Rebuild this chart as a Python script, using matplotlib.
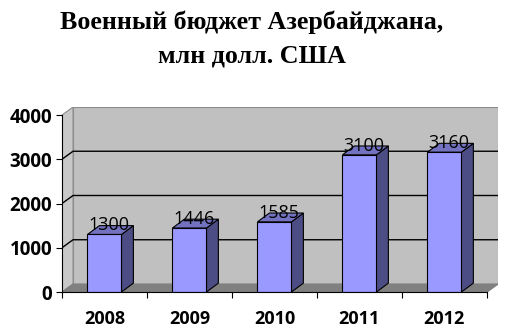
import numpy as np
import matplotlib.pyplot as plt
from matplotlib.patches import Polygon

# data
years = ['2008', '2009', '2010', '2011', '2012']
budget = [1300, 1446, 1585, 3100, 3160]
grid_vals = [0, 1000, 2000, 3000, 4000]

# 3d look: depth offsets in data units
wall_dx, wall_dy = 0.13, 181
bar_dx, bar_dy = 0.14, 200
bar_w = 0.4

fig = plt.figure(figsize=(5.11, 3.36), dpi=100)
ax = fig.add_axes([62 / 511, 44 / 336, 436 / 511, 185 / 336])
ax.set_xlim(0, 5 + wall_dx)
ax.set_ylim(0, 4000 + wall_dy)
ax.patch.set_visible(False)

n = len(years)
top = grid_vals[-1]

# back wall
ax.add_patch(Polygon([(wall_dx, wall_dy), (n + wall_dx, wall_dy),
                      (n + wall_dx, top + wall_dy), (wall_dx, top + wall_dy)],
                     closed=True, fc='#c0c0c0', ec='#8c8c8c', lw=0.8, zorder=1))
# side wall
ax.add_patch(Polygon([(0, 0), (wall_dx, wall_dy), (wall_dx, top + wall_dy), (0, top)],
                     closed=True, fc='#c8c8c8', ec='#8c8c8c', lw=0.8, zorder=1))
# floor
ax.add_patch(Polygon([(0, 0), (n, 0), (n + wall_dx, wall_dy), (wall_dx, wall_dy)],
                     closed=True, fc='#808080', ec='#808080', lw=0.8, zorder=1))

# gridlines on back and side wall
for v in grid_vals[1:-1]:
    ax.plot([0, wall_dx, n + wall_dx], [v, v + wall_dy, v + wall_dy],
            color='black', lw=1.0, zorder=2)
ax.plot([n, n + wall_dx], [0, wall_dy], color='#808080', lw=0.8, zorder=2)

# bars
x = np.arange(n) + 0.5
ax.bar(x, budget, width=bar_w, color='#9999ff', edgecolor='black', lw=0.8, zorder=4)
for xi, v in zip(x, budget):
    r = xi + bar_w / 2
    l = xi - bar_w / 2
    ax.add_patch(Polygon([(r, 0), (r + bar_dx, bar_dy), (r + bar_dx, v + bar_dy), (r, v)],
                         closed=True, fc='#4d4d85', ec='black', lw=0.8, zorder=3))
    ax.add_patch(Polygon([(l, v), (r, v), (r + bar_dx, v + bar_dy), (l + bar_dx, v + bar_dy)],
                         closed=True, fc='#7272c0', ec='black', lw=0.8, zorder=3))
    ax.text(xi + 0.05, v + 90, str(v), ha='center', va='baseline',
            fontsize=13, family='Open Sans', zorder=6)

# axes
for s in ['top', 'right']:
    ax.spines[s].set_visible(False)
ax.spines['left'].set_bounds(0, top)
ax.spines['bottom'].set_bounds(0, n)
ax.spines['left'].set_zorder(5)
ax.spines['bottom'].set_zorder(5)

ax.set_yticks(grid_vals)
ax.set_yticklabels([str(v) for v in grid_vals], family='Open Sans',
                   fontweight='bold', fontsize=13.5)
ax.tick_params(axis='y', length=4, pad=3)
ax.set_xticks(np.arange(n + 1))
ax.set_xticklabels([])
ax.set_xticks(x, minor=True)
ax.set_xticklabels(years, minor=True, family='Open Sans', fontweight='bold', fontsize=13)
ax.tick_params(axis='x', which='major', length=4)
ax.tick_params(axis='x', which='minor', length=0, pad=13)

fig.text(252 / 511, 1 - 22 / 336, 'Военный бюджет Азербайджана,', ha='center', va='center',
         family='Liberation Serif', fontweight='bold', fontsize=18.7)
fig.text(252 / 511, 1 - 56 / 336, 'млн долл. США', ha='center', va='center',
         family='Liberation Serif', fontweight='bold', fontsize=18.7)

fig.savefig('out.png', dpi=100)
